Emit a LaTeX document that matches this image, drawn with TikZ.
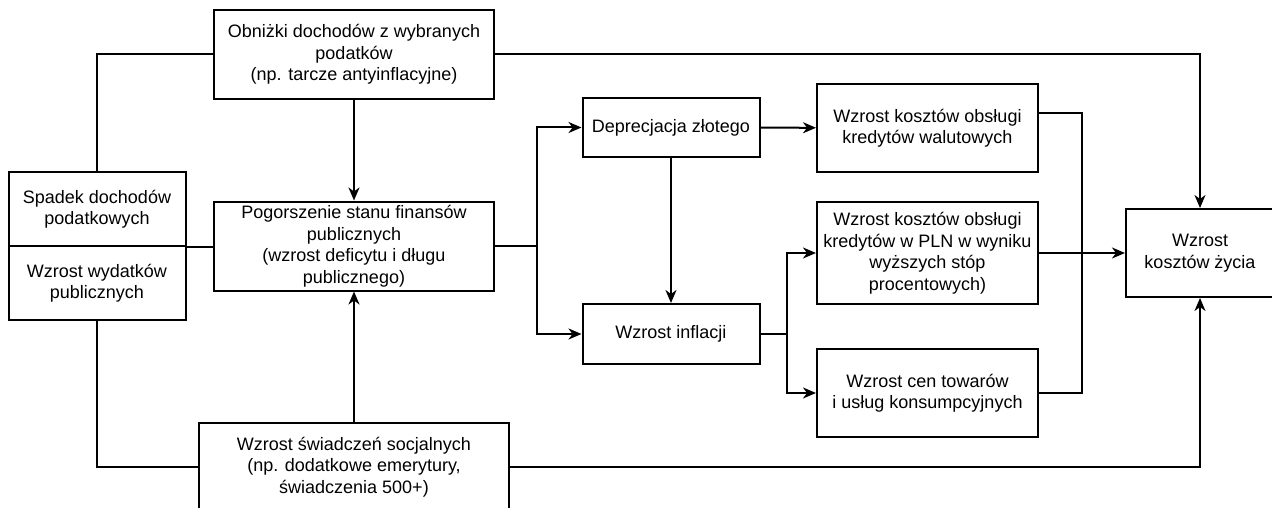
\documentclass[tikz,border=0pt]{standalone}
\usepackage{fontspec}
\setmainfont{Liberation Sans}
\usetikzlibrary{arrows.meta}

\begin{document}
\begin{tikzpicture}[x=1pt, y=-1pt,
    box/.style ={draw, line width=2pt, align=center, inner sep=0pt,
      font=\fontsize{18}{21.5}\selectfont},
    arr/.style ={-{Stealth[length=13pt, width=11pt, inset=4pt]}}, line width=2pt]
   \clip (0,0) rectangle (1272,508);

   \node[box, minimum width=280pt, minimum height=89pt] (A)  at (354,54.5)  {Obniżki dochodów z wybranych\\podatków\\(np. tarcze antyinflacyjne)};
   \node[box, minimum width=177pt, minimum height=74pt] (B)  at (97,209)  {Spadek dochodów\\podatkowych};
   \node[box, minimum width=177pt, minimum height=74pt] (C)  at (97,283)  {Wzrost wydatków\\publicznych};
   \node[box, minimum width=280pt, minimum height=89pt] (D)  at (354,246)  {Pogorszenie stanu finansów\\publicznych\\(wzrost deficytu i długu\\publicznego)};
   \node[box, minimum width=310pt, minimum height=88pt] (E)  at (354,467)  {Wzrost świadczeń socjalnych\\(np. dodatkowe emerytury,\\świadczenia 500+)};
   \node[box, minimum width=177pt, minimum height=59pt] (F)  at (671,127.5)  {Deprecjacja złotego};
   \node[box, minimum width=177pt, minimum height=60pt] (G)  at (671,334)  {Wzrost inflacji};
   \node[box, minimum width=221pt, minimum height=88pt] (H)  at (927.5,128)  {Wzrost kosztów obsługi\\kredytów walutowych};
   \node[box, minimum width=221pt, minimum height=102pt] (I)  at (927.5,253)  {Wzrost kosztów obsługi\\kredytów w PLN w wyniku\\wyższych stóp\\procentowych)};
   \node[box, minimum width=221pt, minimum height=88pt] (J)  at (927.5,393)  {Wzrost cen towarów\\i usług konsumpcyjnych};
   \node[box, minimum width=148pt, minimum height=88pt] (K)  at (1200,253)  {Wzrost\\kosztów życia};

   \coordinate (S1) at (537,246);
   \coordinate (S2) at (787,334);
   \coordinate (S3) at (1082,113);


   \draw (B) |- (A);
   \draw (C) |- (E);
   \draw (B.south east) to (B.south east -| D.west);

   \draw[arr] (A) to (D);
   \draw[arr] (E) to (D);

   \draw (D) to (S1);
   \draw[arr] (S1) |- (F);
   \draw[arr] (S1) |- (G);
   \draw[arr] (F) to (G);
   \draw[arr] (F) to (H);

   \draw (G) to (S2);
   \draw[arr] (S2) |- (I);
   \draw[arr] (S2) |- (J);

   \draw ([yshift=15pt]H.east) -- (S3) |- (J.east);
   \draw[arr] (I) to (K);

   \draw[arr] (A) -| (K);
   \draw[arr] (E) -| (K);

 \end{tikzpicture}
\end{document}
